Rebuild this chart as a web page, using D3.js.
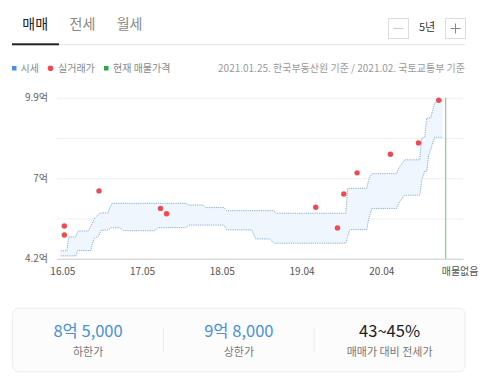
<!DOCTYPE html>
<html>
<head>
<meta charset="utf-8">
<script src="https://cdn.jsdelivr.net/npm/d3@7"></script>
<style>
body { margin: 0; background: #fff; font-family: "Noto Sans CJK KR", "Noto Sans", sans-serif; }
</style>
</head>
<body>
<svg id="chart" width="484" height="380"></svg>
<script>
var tabs = ["매매", "전세", "월세"];
var period = "5년";
var legendLabels = ["시세", "실거래가", "현재 매물가격"];
var sourceNote = "2021.01.25. 한국부동산원 기준 / 2021.02. 국토교통부 기준";

// x: months since 16.05
var xTicks = [0, 12, 24, 36, 48];
var xTickLabels = ["16.05", "17.05", "18.05", "19.04", "20.04"];
var yTicks = [4.2, 5.625, 7.05, 8.475, 9.9];
var yTickLabels = ["4.2억", "", "7억", "", "9.9억"];

// 시세 band (억)
var bandT    = [-0.27, 0.68, 0.98, 2.03, 2.33, 3.84, 4.29, 4.59, 4.89, 5.49, 5.79, 6.85, 7.45, 8.65, 9.25, 13.92, 14.37, 18.58, 19.03, 21.14, 21.59, 24.3, 24.75, 28.51, 29.11, 31.22, 31.82, 32.12, 42.66, 42.96, 43.26, 45.82, 46.12, 46.57, 50.33, 50.63, 51.08, 51.53, 53.79, 54.09, 54.54, 54.84, 55.14, 55.44, 55.74, 56.04, 56.34, 57.24];
var bandLow  = [4.30, 4.30, 4.30, 4.30, 4.49, 4.49, 4.49, 4.80, 4.93, 5.00, 5.20, 5.22, 5.30, 5.29, 5.19, 5.19, 5.30, 5.30, 5.39, 5.39, 5.39, 5.39, 5.22, 5.22, 4.90, 4.90, 4.75, 4.75, 4.75, 5.00, 5.23, 5.23, 5.63, 5.98, 5.98, 6.17, 6.31, 6.45, 6.45, 6.99, 7.30, 7.30, 7.87, 8.06, 8.30, 8.50, 8.50, 8.50];
var bandHigh = [4.48, 4.48, 4.97, 4.97, 5.18, 5.18, 5.34, 5.50, 5.64, 5.78, 5.82, 5.82, 6.16, 6.16, 6.16, 6.16, 6.16, 6.16, 6.10, 6.10, 6.01, 6.01, 5.90, 5.90, 5.90, 5.90, 5.90, 5.81, 5.81, 6.69, 6.69, 6.69, 7.01, 7.21, 7.21, 7.41, 7.55, 7.70, 7.70, 8.47, 8.50, 9.18, 9.18, 9.18, 9.46, 9.71, 9.80, 9.80];

// 실거래가
var dealT     = [0.30, 0.30, 5.52, 14.78, 15.69, 38.14, 41.41, 42.36, 44.36, 49.38, 53.60, 56.65];
var dealPrice = [5.36, 5.04, 6.60, 5.98, 5.79, 6.02, 5.29, 6.49, 7.24, 7.90, 8.30, 9.81];

var currentT = 57.7;
var currentLabel = "매물없음";

var summaryValues = ["8억 5,000", "9억 8,000", "43~45%"];
var summaryLabels = ["하한가", "상한가", "매매가 대비 전세가"];
var summaryColors = ["#4a8fe0", "#4a8fe0", "#222"];

var svg = d3.select("#chart");

/* tabs + period control */
var head = svg.append("g");
head.selectAll("text.tab")
    .data(tabs)
    .enter().append("text")
    .attr("class", "tab")
    .attr("x", function(d, i) { return 35.2 + i * 47.2; })
    .attr("y", 24)
    .attr("dy", "0.35em")
    .attr("text-anchor", "middle")
    .style("font-size", "14px")
    .style("fill", function(d, i) { return i == 0 ? "#222" : "#888"; })
    .text(function(d) { return d; });

head.append("line").attr("x1", 59).attr("x2", 465).attr("y1", 44.7).attr("y2", 44.7)
    .style("stroke", "#e2e2e2");
head.append("rect").attr("x", 12).attr("y", 43.3).attr("width", 47).attr("height", 2)
    .style("fill", "#222");

[388.5, 445.5].forEach(function(bx, i) {
    head.append("rect").attr("x", bx).attr("y", 18.5).attr("width", 20).attr("height", 20)
        .style("fill", "#fff").style("stroke", "#ddd");
    head.append("line").attr("x1", bx + 5).attr("x2", bx + 15).attr("y1", 28.5).attr("y2", 28.5)
        .style("stroke", i == 0 ? "#ccc" : "#888");
    if (i == 1) {
        head.append("line").attr("x1", bx + 10).attr("x2", bx + 10).attr("y1", 23.5).attr("y2", 33.5)
            .style("stroke", "#888");
    }
});
head.append("text").attr("x", 427).attr("y", 27.5).attr("dy", "0.35em")
    .attr("text-anchor", "middle").style("font-size", "11px").style("fill", "#333")
    .text(period);

/* legend */
var leg = svg.append("g").style("font-size", "10px");
leg.append("rect").attr("x", 12).attr("y", 66).attr("width", 4.5).attr("height", 4.5).style("fill", "#4a8fe0");
leg.append("text").attr("x", 20.5).attr("y", 68.3).attr("dy", "0.35em").style("fill", "#888").text(legendLabels[0]);
leg.append("circle").attr("cx", 50.5).attr("cy", 68.3).attr("r", 2.8).style("fill", "#f0474f");
leg.append("text").attr("x", 58).attr("y", 68.3).attr("dy", "0.35em").style("fill", "#888").text(legendLabels[1]);
leg.append("rect").attr("x", 104).attr("y", 66).attr("width", 4.5).attr("height", 4.5).style("fill", "#2aa845");
leg.append("text").attr("x", 113).attr("y", 68.3).attr("dy", "0.35em").style("fill", "#888").text(legendLabels[2]);
leg.append("text").attr("x", 465).attr("y", 68.3).attr("dy", "0.35em").attr("text-anchor", "end")
    .style("fill", "#999").text(sourceNote);

/* chart */
var x = d3.scaleLinear().domain([-0.8, 60.3]).range([57, 463]);
var y = d3.scaleLinear().domain([4.2, 9.9]).range([258.7, 97.7]);

var yAxis = svg.append("g")
    .attr("transform", "translate(57,0)")
    .call(d3.axisLeft(y).tickValues(yTicks).tickSize(-(463 - 57)).tickPadding(9)
        .tickFormat(function(d, i) { return yTickLabels[i]; }));
yAxis.select(".domain").remove();
yAxis.selectAll(".tick line").style("stroke", "#f0f0f0");
yAxis.selectAll(".tick text").style("font-size", "10px").style("fill", "#666")
    .style("font-family", "\"Noto Sans CJK KR\", sans-serif");

var band = bandT.map(function(t, i) { return { t: t, lo: bandLow[i], hi: bandHigh[i] }; });

svg.append("path").datum(band)
    .attr("d", d3.area().x(function(d) { return x(d.t); })
        .y0(function(d) { return y(d.lo); }).y1(function(d) { return y(d.hi); }))
    .style("fill", "#f0f6fd");

["lo", "hi"].forEach(function(k) {
    svg.append("path").datum(band)
        .attr("d", d3.line().x(function(d) { return x(d.t); }).y(function(d) { return y(d[k]); }))
        .style("fill", "none").style("stroke", "#86aee2").style("stroke-width", 1)
        .style("stroke-dasharray", "1.2,1");
});

var xAxis = svg.append("g")
    .attr("transform", "translate(0,258.7)")
    .call(d3.axisBottom(x).tickValues(xTicks).tickSize(0).tickPadding(9.5)
        .tickFormat(function(d, i) { return xTickLabels[i]; }));
xAxis.select(".domain").style("stroke", "#cfcfcf");
xAxis.selectAll(".tick text").style("font-size", "10px").style("fill", "#555")
    .style("font-family", "\"Noto Sans CJK KR\", sans-serif");

svg.append("line")
    .attr("x1", x(currentT)).attr("x2", x(currentT))
    .attr("y1", y(9.9)).attr("y2", y(4.2))
    .style("stroke", "#6cc46c").style("stroke-width", 1);
svg.append("text").attr("x", x(currentT) - 4).attr("y", 271.7).attr("dy", "0.35em")
    .style("font-size", "10px").style("fill", "#555").text(currentLabel);

svg.selectAll("circle.deal")
    .data(dealT)
    .enter().append("circle")
    .attr("class", "deal")
    .attr("cx", function(d) { return x(d); })
    .attr("cy", function(d, i) { return y(dealPrice[i]); })
    .attr("r", 2.7)
    .style("fill", "#ef4a52");

/* summary box */
var box = svg.append("g");
box.append("rect").attr("x", 12.7).attr("y", 308.3).attr("width", 452.3).attr("height", 63.4)
    .attr("rx", 6).style("fill", "#fcfcfd").style("stroke", "#ececec");
[163.5, 314].forEach(function(dx) {
    box.append("line").attr("x1", dx).attr("x2", dx).attr("y1", 328).attr("y2", 352)
        .style("stroke", "#ececec");
});
summaryValues.forEach(function(v, i) {
    var cx = 12.7 + 452.3 * (2 * i + 1) / 6;
    box.append("text").attr("x", cx).attr("y", 331).attr("dy", "0.35em")
        .attr("text-anchor", "middle").style("font-size", "16.5px").style("fill", summaryColors[i])
        .text(v);
    box.append("text").attr("x", cx).attr("y", 351.8).attr("dy", "0.35em")
        .attr("text-anchor", "middle").style("font-size", "11px").style("fill", "#777")
        .text(summaryLabels[i]);
});
</script>
</body>
</html>
